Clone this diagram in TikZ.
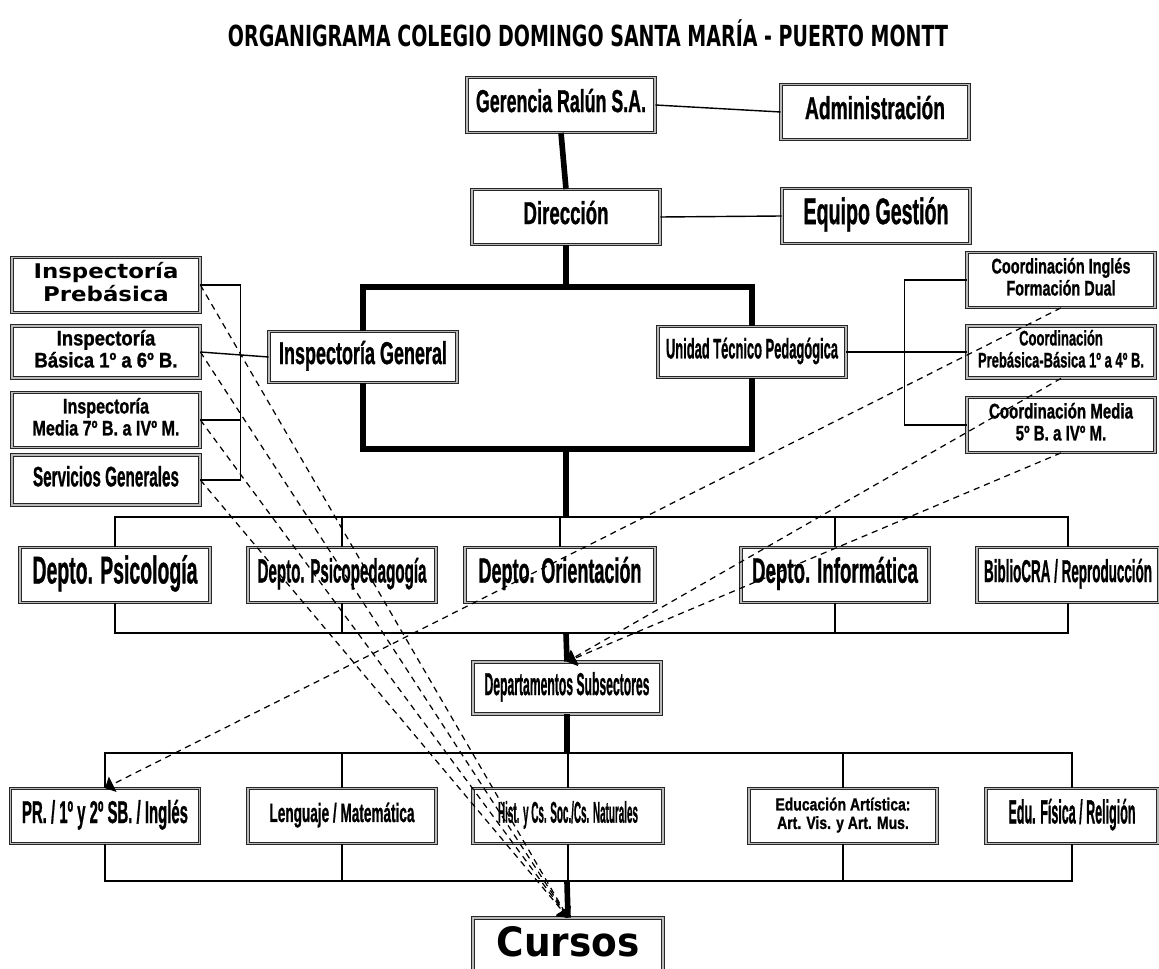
\documentclass[tikz,border=0pt]{standalone}
\usepackage{fontspec}
\setmainfont{Liberation Sans}[BoldFeatures={FakeBold=1.2}]
\newfontfamily\verdana{DejaVu Sans}
\usepackage{graphicx}
\usetikzlibrary{arrows}
\newlength{\px}
\setlength{\px}{0.02cm}
% texto comprimido: [fuente]{ancho px}{tamano}{interlinea}{texto}
\newcommand{\sqz}[5][\rmfamily]{\resizebox{#2\px}{\height}{#1\fontsize{#3}{#4}\selectfont\bfseries\begin{tabular}{@{}c@{}}#5\end{tabular}}}

\begin{document}
\begin{tikzpicture}[x=0.02cm,y=-0.02cm,
		caja/.style={draw=black!85,double=gray!55,double distance=1.1pt,line width=.45pt,fill=white,inner sep=0pt,minimum width={#1*0.02cm},minimum height=1.1cm},
		caja/.default=188,
		linea/.style={line width=.8pt},
		grueso/.style={line width=3.2pt},
		punteado/.style={line width=.7pt,dash pattern=on 3.5pt off 2.8pt,-triangle 90}]
			\useasboundingbox (0,0) rectangle (1159,969);
			%titulo
			\node (titulo) at (588,38) {\sqz[\verdana]{720}{16.5}{18}{ORGANIGRAMA COLEGIO DOMINGO SANTA MARÍA - PUERTO MONTT}};
			
			%gerencia y direccion
			\node[caja] (gerencia) at (561,105) {\sqz{170}{18}{20}{Gerencia Ralún S.A.}};
			\node[caja] (admin) at (875,112) {\sqz{140}{18}{20}{Administración}};
			\node[caja] (direccion) at (566,217) {\sqz{85}{18}{20}{Dirección}};
			\node[caja] (equipo) at (876,216) {\sqz{145}{21}{23}{Equipo Gestión}};
			
			%inspectoria y utp
			\node[caja,minimum height=1.02cm] (ig) at (363,357) {\sqz{168}{18}{20}{Inspectoría General}};
			\node[caja,minimum height=1.02cm] (utp) at (752,352) {\sqz{172}{16}{18}{Unidad Técnico Pedagógica}};
			
			%inspectorias (izquierda)
			\node[caja] (ipre) at (106,285) {\sqz[\verdana]{145}{11.5}{12}{Inspectoría\\Prebásica}};
			\node[caja,minimum height=1.04cm] (ibas) at (106,352) {\sqz{143}{12}{12.5}{Inspectoría\\Básica 1º a 6º B.}};
			\node[caja] (imed) at (106,420) {\sqz{147}{12}{12.5}{Inspectoría\\Media 7º B. a IVº M.}};
			\node[caja,minimum height=1cm] (serv) at (106,480) {\sqz{146}{16}{18}{Servicios Generales}};
			
			%coordinaciones (derecha)
			\node[caja] (cing) at (1061,280) {\sqz{139}{12}{12.5}{Coordinación Inglés\\Formación Dual}};
			\node[caja,minimum height=1.04cm] (cpre) at (1061,352) {\sqz{166}{12}{12.5}{Coordinación\\Prebásica-Básica 1º a 4º B.}};
			\node[caja] (cmed) at (1061,425) {\sqz{144}{12}{12.5}{Coordinación Media\\5º B. a IVº M.}};
			
			%departamentos
			\node[caja=190] (dpsi) at (115,575) {\sqz{165}{22}{24}{Depto. Psicología}};
			\node[caja] (dpped) at (342,575) {\sqz{169}{19}{21}{Depto. Psicopedagogía}};
			\node[caja=190] (dori) at (560,575) {\sqz{163}{20}{22}{Depto. Orientación}};
			\node[caja] (dinf) at (835,575) {\sqz{166}{20}{22}{Depto. Informática}};
			\node[caja=182] (dbib) at (1068,575) {\sqz{168}{18}{20}{BiblioCRA / Reproducción}};
			\node[caja,minimum height=1.04cm] (dsub) at (567,688) {\sqz{165}{18}{20}{Departamentos Subsectores}};
			
			%subsectores
			\node[caja=189] (pr) at (105,816) {\sqz{166}{18}{20}{PR. / 1º y 2º SB. / Inglés}};
			\node[caja] (leng) at (342,816) {\sqz{145}{15}{17}{Lenguaje / Matemática}};
			\node[caja=190] (hist) at (568,816) {\sqz{140}{17}{19}{Hist. y Cs. Soc./Cs. Naturales}};
			\node[caja] (art) at (843,816) {\sqz{135}{10}{10.5}{Educación Artística:\\Art. Vis. y Art. Mus.}};
			\node[caja=172] (edf) at (1072,816) {\sqz{127}{19}{21}{Edu. Física / Religión}};
			
			%cursos
			\node[caja=190,minimum height=1.16cm] (cursos) at (568,947) {\sqz[\verdana]{143}{23}{26}{Cursos}};
			
			%lineas superiores
			\draw[linea] (gerencia.east) -- (admin.west);
			\draw[grueso] (gerencia.south) -- (direccion.north);
			\draw[linea] (direccion.east) -- (equipo.west);
			
			%rectangulo grueso
			\coordinate (rsup) at (566,287);
			\coordinate (rinf) at (566,449);
			\draw[grueso] (direccion.south) -- (rsup);
			\draw[grueso] (ig.north) |- (rsup) -| (utp.north);
			\draw[grueso] (ig.south) |- (rinf) -| (utp.south);
			
			%llaves laterales
			\draw[linea] (ipre.east) -- ++(40,0) |- (serv.east);
			\draw[linea] (imed.east) -- ++(40,0);
			\draw[linea] (ibas.east) -- (ig.west);
			\draw[linea] (cing.west) -- ++(-62,0) |- (cmed.west);
			\draw[linea] (utp.east) -- (cpre.west);
			
			%departamentos
			\coordinate (bus1) at (566,517);
			\coordinate (bus2) at (566,633);
			\draw[grueso] (rinf) -- (bus1);
			\draw[linea] (dpsi.north) -- ++(0,-30) -| (dbib.north);
			\foreach \d in {dpped,dori,dinf}
				\draw[linea] (\d.north) -- (\d.north |- bus1);
			\draw[linea] (dpsi.south) -- ++(0,30) -| (dbib.south);
			\foreach \d in {dpped,dinf}
				\draw[linea] (\d.south) -- (\d.south |- bus2);
			\draw[grueso] (bus2) -- (dsub.north);
			
			%subsectores
			\coordinate (bus3) at (567,752);
			\coordinate (bus4) at (567,882);
			\draw[grueso] (dsub.south) -- (bus3);
			\draw[linea] (pr.north) -- ++(0,-35) -| (edf.north);
			\foreach \d in {leng,hist,art}
				\draw[linea] (\d.north) -- (\d.north |- bus3);
			\draw[linea] (pr.south) -- ++(0,37) -| (edf.south);
			\foreach \d in {leng,hist,art}
				\draw[linea] (\d.south) -- (\d.south |- bus4);
			\draw[grueso] (bus4) -- (cursos.north);
			
			%lineas punteadas
			\foreach \d in {ipre,ibas,imed,serv}
				\draw[punteado] (\d.east) -- (cursos.north);
			\draw[punteado] (cing.south) -- (pr.north);
			\draw[punteado] (cpre.south) -- (dsub.north);
			\draw[punteado] (cmed.south) -- (dsub.north);
	\end{tikzpicture}
\end{document}
